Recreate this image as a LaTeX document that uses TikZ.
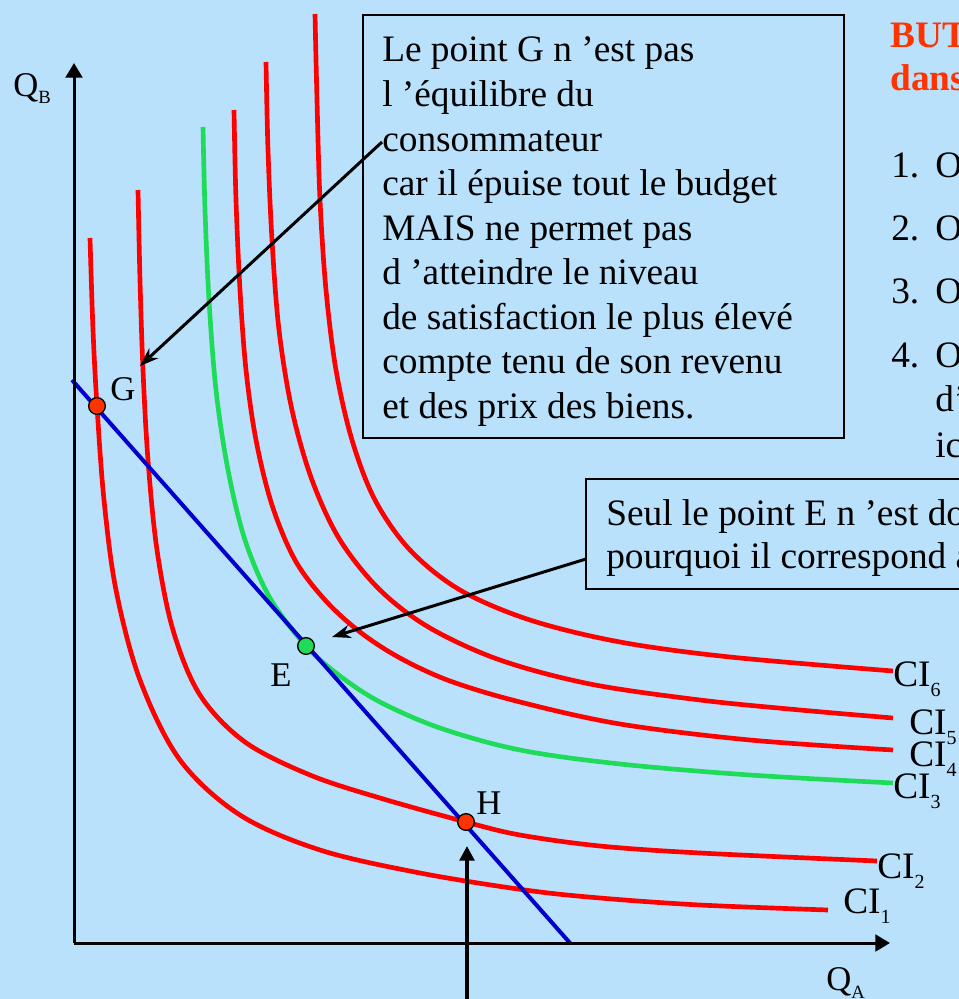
\documentclass[tikz,border=0pt]{standalone}
\usepackage{fontspec}
\setmainfont{Liberation Serif}
\usetikzlibrary{arrows.meta}
\definecolor{bgblue}{RGB}{185,225,251}
\definecolor{cired}{RGB}{255,0,0}
\definecolor{cigreen}{RGB}{30,220,90}
\definecolor{budget}{RGB}{0,0,204}
\definecolor{ptred}{RGB}{255,51,0}
\definecolor{titlered}{RGB}{255,51,0}
\begin{document}
\begin{tikzpicture}[x=0.75pt,y=-0.75pt,
  ci/.style={line width=3.5pt, line join=round},
  budgetline/.style={budget, line width=3pt},
  axis/.style={line width=2.25pt, -{Triangle[length=11pt,width=12.5pt]}},
  arr/.style={line width=2.25pt, -{Stealth[length=14pt,width=10pt]}},
  uparr/.style={line width=3pt, -{Triangle[length=11pt,width=11pt]}},
  box/.style={draw=black, fill=bgblue, line width=1.5pt, inner sep=0, anchor=north west},
  txt/.style={font=\fontsize{28}{33}\selectfont, inner sep=0, anchor=base west},
  lbl/.style={font=\fontsize{26}{30}\selectfont, inner sep=0, anchor=base west},
  title/.style={font=\fontsize{28}{33}\selectfont\bfseries, text=titlered, inner sep=0, anchor=base west},
  pt/.style={circle, draw=black, line width=1pt, minimum size=12.5pt, inner sep=0},
  smoothplot/.style={smooth, tension=0.55}
]
\useasboundingbox (0,0) rectangle (959,999);
\clip (0,0) rectangle (959,999);
\fill[bgblue] (0,0) rectangle (959,999);

% indifference curves
\draw[ci, cired] plot[smoothplot] coordinates {(90,238) (93,330) (97,406) (104,500) (116,590) (140,680) (180,760) (240,815) (320,850) (420,873) (525,890) (600,898) (700,905) (828,910)};
\draw[ci, cired] plot[smoothplot] coordinates {(138,190) (140,280) (143,370) (148,460) (157,550) (173,630) (200,695) (245,742) (310,775) (380,798) (466,822) (520,835) (600,846) (700,853) (877,861)};
\draw[ci, cigreen] plot[smoothplot] coordinates {(203,127) (205,210) (209,300) (216,390) (228,470) (245,540) (270,598) (306,646) (340,676) (380,702) (440,728) (520,750) (620,764) (750,775) (893,783)};
\draw[ci, cired] plot[smoothplot] coordinates {(234,110) (236,200) (240,290) (246,370) (256,440) (272,505) (295,560) (325,600) (360,632) (400,658) (450,681) (520,702) (620,724) (750,740) (893,750)};
\draw[ci, cired] plot[smoothplot] coordinates {(266,62) (268,150) (272,240) (279,330) (292,410) (312,480) (340,540) (380,590) (430,628) (500,660) (590,684) (700,700) (800,710) (893,718)};
\draw[ci, cired] plot[smoothplot] coordinates {(315,14) (317,100) (320,200) (326,290) (336,370) (352,440) (375,500) (410,550) (460,590) (530,620) (620,642) (730,657) (893,671)};

% budget line
\coordinate (b1) at (72,380);
\coordinate (b2) at (570,943);
\draw[budgetline] (b1) -- (b2);

% axes
\coordinate (O) at (74,943);
\coordinate (ytip) at (74,63);
\coordinate (xtip) at (890,943);
\draw[axis] (O) -- (ytip);
\draw[axis] (O) -- (xtip);
\node[inner sep=0, anchor=base west] (QB) at (13,97) {\fontsize{26}{30}\selectfont Q\raisebox{-5pt}{\fontsize{14}{14}\selectfont B}};
\node[inner sep=0, anchor=base west] (QA) at (826,990) {\fontsize{26}{30}\selectfont Q\raisebox{-6pt}{\fontsize{14}{14}\selectfont A}};

% boxes
\node[box, minimum width=360.75pt, minimum height=317.25pt] (boxG) at (362,14) {};
\foreach \t [count=\i from 0] in {Le point G n ’est pas, l ’équilibre du, consommateur, car il épuise tout le budget, MAIS ne permet pas, d ’atteindre le niveau, de satisfaction le plus élevé, compte tenu de son revenu, et des prix des biens.}
  \node[txt] (gl\i) at (382,62+44.5*\i) {\t};

\node[box, minimum width=330pt, minimum height=82.5pt] (boxE) at (585,478) {};
\node[txt] (el0) at (606,525) {Seul le point E n ’est donc};
\node[txt] (el1) at (606,568) {pourquoi il correspond à};

% right-hand text (cut by the page edge)
\node[title] (t1) at (890,48) {BUT};
\node[title] (t2) at (890,90) {dans};
\node[txt] (n1) at (891,177) {1.};
\node[txt] (o1) at (935,177) {O};
\node[txt] (n2) at (891,240) {2.};
\node[txt] (o2) at (935,240) {O};
\node[txt] (n3) at (891,303) {3.};
\node[txt] (o3) at (935,303) {O};
\node[txt] (n4) at (891,367) {4.};
\node[txt] (o4) at (935,367) {O};
\node[txt] (o5) at (935,411) {d’i};
\node[txt] (o6) at (935,457) {ic};

% arrows
\coordinate (gs) at (382,142);
\coordinate (gt) at (140,366);
\draw[arr] (gs) -- (gt);
\coordinate (es) at (586,559);
\coordinate (et) at (332,637);
\draw[arr] (es) -- (et);
\coordinate (hs) at (467,1005);
\coordinate (ht) at (467,846);
\draw[uparr] (hs) -- (ht);

% points
\node[pt, fill=ptred] (G) at (97,406) {};
\node[pt, fill=cigreen] (E) at (306,646) {};
\node[pt, fill=ptred] (H) at (466,822) {};
\node[lbl] (Gl) at (110,400) {G};
\node[lbl] (El) at (270,686) {E};
\node[lbl] (Hl) at (476,814) {H};

% curve labels
\node[txt] (ci6) at (893,686) {CI\raisebox{-7.5pt}{\fontsize{15}{15}\selectfont 6}};
\node[txt] (ci5) at (909,734) {CI\raisebox{-7.5pt}{\fontsize{15}{15}\selectfont 5}};
\node[txt] (ci4) at (909,766) {CI\raisebox{-7.5pt}{\fontsize{15}{15}\selectfont 4}};
\node[txt] (ci3) at (893,798) {CI\raisebox{-7.5pt}{\fontsize{15}{15}\selectfont 3}};
\node[txt] (ci2) at (877,878) {CI\raisebox{-7.5pt}{\fontsize{15}{15}\selectfont 2}};
\node[txt] (ci1) at (843,913) {CI\raisebox{-7.5pt}{\fontsize{15}{15}\selectfont 1}};
\end{tikzpicture}
\end{document}
